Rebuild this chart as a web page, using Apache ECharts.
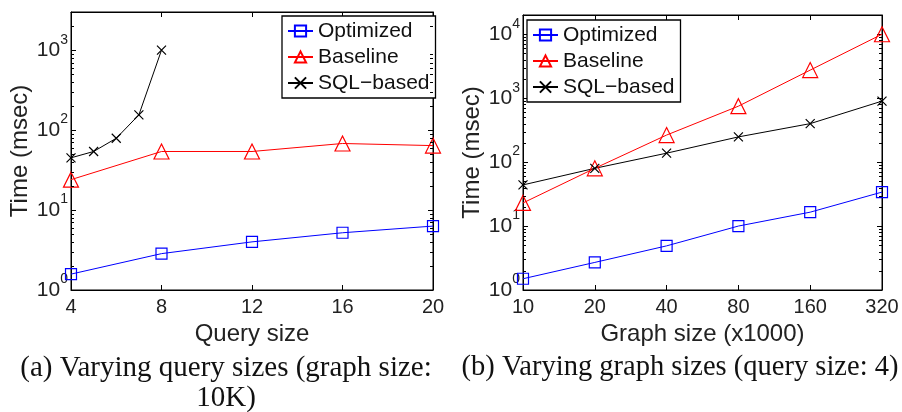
<!DOCTYPE html>
<html>
<head>
<meta charset="utf-8">
<script src="https://cdn.jsdelivr.net/npm/echarts@6/dist/echarts.min.js"></script>
<style>
html,body{margin:0;padding:0;background:#fff;}
#chart{width:902px;height:412px;}
</style>
</head>
<body>
<div id="chart"></div>
<script>
// ---- Data: (a) Varying query sizes ----
const querySizes = [4, 8, 12, 16, 20];
const sqlQuerySizes = [4, 5, 6, 7, 8];
const aOptimized = [1.58, 2.85, 4.0, 5.2, 6.3];
const aBaseline = [24, 54, 54, 68, 64];
const aSql = [45, 54, 79, 155, 1000];

// ---- Data: (b) Varying graph sizes ----
const graphSizes = ['10', '20', '40', '80', '160', '320'];
const bOptimized = [1.5, 2.7, 4.9, 10, 16.5, 34];
const bBaseline = [23, 80, 265, 750, 2750, 10000];
const bSql = [44, 80, 138, 248, 400, 900];

const seriesNames = ['Optimized', 'Baseline', 'SQL\u2212based'];
const captionA = '(a) Varying query sizes (graph size:\n10K)';
const captionB = '(b) Varying graph sizes (query size: 4)';

// minor tick multipliers of the log axes (axis furniture, not data)
const minorMults = [2, 3, 4, 5, 6, 7, 8, 9];
const decadesA = [1, 10, 100, 1000];
const decadesB = [1, 10, 100, 1000, 10000];

const FONT = 'Liberation Sans, Arial, Helvetica, sans-serif';
const SERIF = 'Liberation Serif, Times New Roman, serif';
const BLUE = '#0000ff', RED = '#ff0000', BLACK = '#000000';
const crossPath = 'path://M0,0L10,10M10,0L0,10';

function isPow10(v) {
  const l = Math.log10(v);
  return Math.abs(l - Math.round(l)) < 1e-6;
}
const yLabel = {
  show: true,
  margin: 3,
  color: '#222',
  fontFamily: FONT,
  formatter: function (v) {
    if (!isPow10(v)) return '';
    return '{b|10}{s|' + Math.round(Math.log10(v)) + '}';
  },
  rich: {
    b: { fontSize: 21, fontFamily: FONT, color: '#222', verticalAlign: 'bottom', lineHeight: 21, padding: [8, 0, 0, 0] },
    s: { fontSize: 14, fontFamily: FONT, color: '#222', verticalAlign: 'bottom', lineHeight: 14, padding: [0, 0, 14, 0] }
  }
};
const tickIn = { show: true, inside: true, length: 5, lineStyle: { color: '#000', width: 1 } };
const axLine = { show: true, lineStyle: { color: '#000', width: 1 } };

function pairs(xs, ys) { return xs.map((x, i) => [x, ys[i]]); }

function mkSeries(name, data, color, symbol, size, xi, yi) {
  return {
    type: 'line', name: name, data: data,
    xAxisIndex: xi, yAxisIndex: yi,
    symbol: symbol, symbolSize: size,
    showAllSymbol: true,
    lineStyle: { color: color, width: 1 },
    itemStyle: { color: 'rgba(255,255,255,0)', borderColor: color, borderWidth: 1.2 },
    emphasis: { disabled: true },
    animation: false, z: 3
  };
}

function minorValues(decades, maxV) {
  const out = [];
  decades.forEach(d => minorMults.forEach(m => { if (d * m < maxV) out.push(d * m); }));
  return out;
}

function minorTickSeries(xAnchor, values, xi, yi) {
  return {
    type: 'custom', xAxisIndex: xi, yAxisIndex: yi, silent: true, z: 4,
    data: values.map(v => [xAnchor, v]),
    encode: { x: 0, y: 1 },
    renderItem: function (params, api) {
      const cs = params.coordSys;
      const y = Math.round(api.coord([api.value(0), api.value(1)])[1]) + 0.5;
      const L = 3;
      return {
        type: 'group',
        children: [
          { type: 'line', shape: { x1: cs.x, y1: y, x2: cs.x + L, y2: y }, style: { stroke: '#000', lineWidth: 1 } },
          { type: 'line', shape: { x1: cs.x + cs.width - L, y1: y, x2: cs.x + cs.width, y2: y }, style: { stroke: '#000', lineWidth: 1 } }
        ]
      };
    }
  };
}

const legendBase = {
  orient: 'vertical',
  backgroundColor: '#fff',
  borderColor: '#000', borderWidth: 1.3,
  itemWidth: 25, itemHeight: 14, itemGap: 4, itemTextGap: 3,
  textStyle: { fontSize: 21, fontFamily: FONT, color: '#111', lineHeight: 22 },
  data: seriesNames,
  selectedMode: false
};

const chart = echarts.init(document.getElementById('chart'), null, { renderer: 'canvas' });
chart.setOption({
  backgroundColor: '#fff',
  animation: false,
  title: [
    { text: captionA, left: 221, top: 348, textAlign: 'center',
      textStyle: { fontFamily: SERIF, fontSize: 29, fontWeight: 'normal', color: '#111', lineHeight: 30 } },
    { text: captionB, left: 675, top: 348, textAlign: 'center',
      textStyle: { fontFamily: SERIF, fontSize: 28.5, fontWeight: 'normal', color: '#111', lineHeight: 30 } }
  ],
  grid: [
    { left: 71, top: 12, width: 362, height: 278, show: true, borderColor: '#000', borderWidth: 1, backgroundColor: 'transparent' },
    { left: 523, top: 15, width: 359, height: 275, show: true, borderColor: '#000', borderWidth: 1, backgroundColor: 'transparent' }
  ],
  legend: [
    Object.assign({}, legendBase, { left: 282, top: 16, padding: [4, 6, 4, 5] }),
    Object.assign({}, legendBase, { left: 527, top: 20, padding: [4, 6, 4, 5] })
  ],
  xAxis: [
    { type: 'value', gridIndex: 0, min: 4, max: 20, interval: 4,
      name: 'Query size', nameLocation: 'middle', nameGap: 28,
      nameTextStyle: { fontSize: 24, fontFamily: FONT, color: '#222' },
      axisLine: axLine, axisTick: tickIn, splitLine: { show: false },
      axisLabel: { fontSize: 20, fontFamily: FONT, color: '#222', margin: 7 } },
    { type: 'value', gridIndex: 0, position: 'top', min: 4, max: 20, interval: 4,
      axisLine: axLine, axisTick: tickIn, axisLabel: { show: false }, splitLine: { show: false } },
    { type: 'category', gridIndex: 1, data: graphSizes, boundaryGap: false,
      name: 'Graph size (x1000)', nameLocation: 'middle', nameGap: 28,
      nameTextStyle: { fontSize: 24, fontFamily: FONT, color: '#222' },
      axisLine: axLine, axisTick: Object.assign({}, tickIn, { alignWithLabel: true }), splitLine: { show: false },
      axisLabel: { fontSize: 20, fontFamily: FONT, color: '#222', margin: 7, interval: 0 } },
    { type: 'category', gridIndex: 1, position: 'top', data: graphSizes, boundaryGap: false,
      axisLine: axLine, axisTick: tickIn, axisLabel: { show: false }, splitLine: { show: false } }
  ],
  yAxis: [
    { type: 'log', gridIndex: 0, min: 1, max: 3000, logBase: 10,
      name: 'Time (msec)', nameLocation: 'middle', nameGap: 39,
      nameTextStyle: { fontSize: 24, fontFamily: FONT, color: '#222' },
      axisLine: axLine, axisTick: tickIn, splitLine: { show: false }, axisLabel: yLabel },
    { type: 'log', gridIndex: 0, position: 'right', min: 1, max: 3000, logBase: 10,
      axisLine: axLine, axisTick: tickIn, axisLabel: { show: false }, splitLine: { show: false } },
    { type: 'log', gridIndex: 1, min: 1, max: 20000, logBase: 10,
      name: 'Time (msec)', nameLocation: 'middle', nameGap: 39,
      nameTextStyle: { fontSize: 24, fontFamily: FONT, color: '#222' },
      axisLine: axLine, axisTick: tickIn, splitLine: { show: false }, axisLabel: yLabel },
    { type: 'log', gridIndex: 1, position: 'right', min: 1, max: 20000, logBase: 10,
      axisLine: axLine, axisTick: tickIn, axisLabel: { show: false }, splitLine: { show: false } }
  ],
  series: [
    minorTickSeries(4, minorValues(decadesA, 3000), 0, 0),
    minorTickSeries(0, minorValues(decadesB, 20000), 2, 2),
    mkSeries(seriesNames[0], pairs(querySizes, aOptimized), BLUE, 'rect', 11, 0, 0),
    mkSeries(seriesNames[1], pairs(querySizes, aBaseline), RED, 'triangle', 15, 0, 0),
    mkSeries(seriesNames[2], pairs(sqlQuerySizes, aSql), BLACK, crossPath, 9, 0, 0),
    mkSeries(seriesNames[0], bOptimized, BLUE, 'rect', 11, 2, 2),
    mkSeries(seriesNames[1], bBaseline, RED, 'triangle', 15, 2, 2),
    mkSeries(seriesNames[2], bSql, BLACK, crossPath, 9, 2, 2)
  ]
});
</script>
</body>
</html>
